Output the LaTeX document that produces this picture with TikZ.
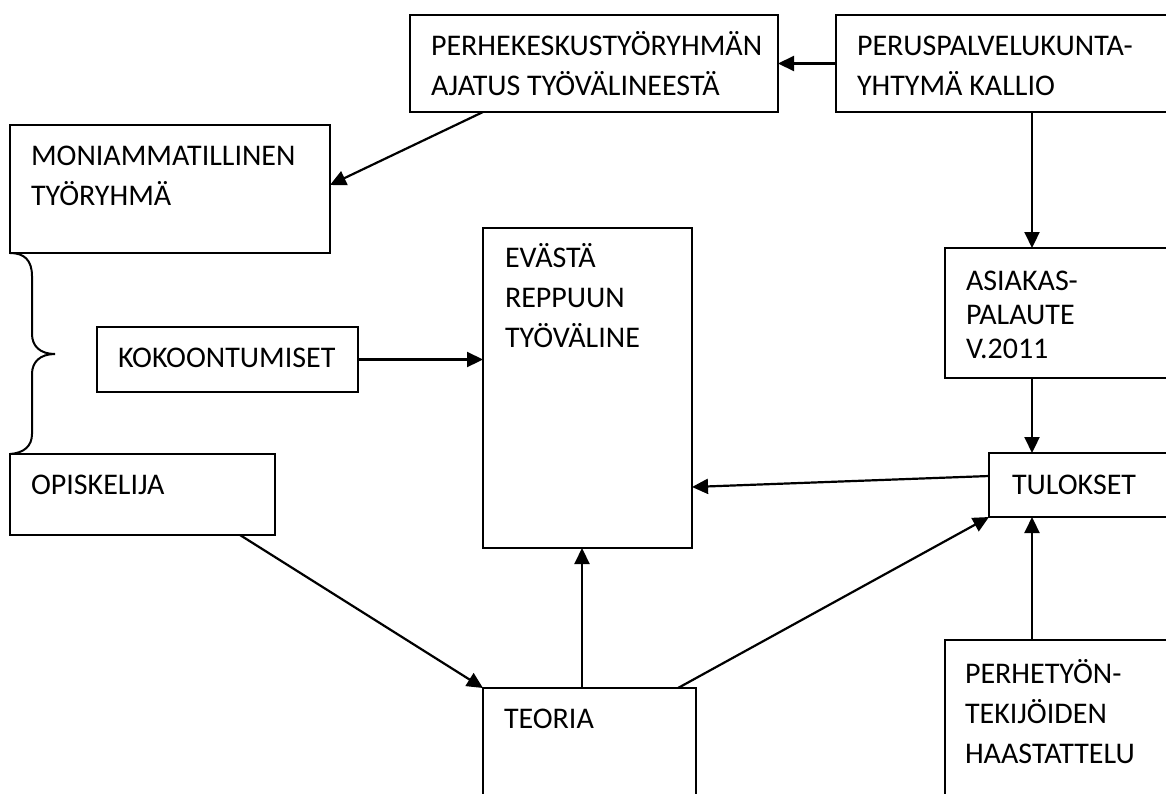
\documentclass[tikz,border=0pt]{standalone}
\usepackage{fontspec}
\setmainfont{Carlito}
\usetikzlibrary{arrows.meta}
\begin{document}
\begin{tikzpicture}[x=1pt,y=-1pt,
  box/.style={draw, line width=2pt, anchor=north west, inner sep=0pt, outer sep=0pt},
  lbl/.style={anchor=north west, inner sep=0pt, outer sep=0pt, align=left, font=\fontsize{30}{40}\selectfont},
  arr/.style={-{Triangle[length=16pt,width=15pt]}, line width=2.2pt}]
\useasboundingbox (0,0) rectangle (1166,793);
\clip (0,0) rectangle (1166,793);
\fill[white] (0,0) rectangle (1166,793);
% boxes
\node[box, minimum width=368pt, minimum height=97pt] (A) at (410,15) {};
\node[box, minimum width=350pt, minimum height=97pt] (B) at (836,15) {};
\node[box, minimum width=320pt, minimum height=128pt] (C) at (10,125) {};
\node[box, minimum width=261pt, minimum height=65pt] (E) at (97,327) {};
\node[box, minimum width=265pt, minimum height=81pt] (D) at (10,454) {};
\node[box, minimum width=209pt, minimum height=320pt] (F) at (483,228) {};
\node[box, minimum width=240pt, minimum height=130pt] (G) at (945,248) {};
\node[box, minimum width=200pt, minimum height=64pt] (H) at (989,453) {};
\node[box, minimum width=240pt, minimum height=200pt] (I) at (945,640) {};
\node[box, minimum width=213pt, minimum height=150pt] (J) at (483,688) {};
% texts (first baseline = node top + 28)
\node[lbl] (tA) at (431,27) {\strut PERHEKESKUSTYÖRYHMÄN\\AJATUS TYÖVÄLINEESTÄ};
\node[lbl] (tB) at (857,27) {\strut PERUSPALVELUKUNTA-\\YHTYMÄ KALLIO};
\node[lbl] (tC) at (31,137) {\strut MONIAMMATILLINEN\\TYÖRYHMÄ};
\node[lbl] (tE) at (118,339) {\strut KOKOONTUMISET};
\node[lbl] (tD) at (31,466) {\strut OPISKELIJA};
\node[lbl] (tF) at (505,239) {\strut EVÄSTÄ\\REPPUUN\\TYÖVÄLINE};
\node[lbl, font=\fontsize{30}{34}\selectfont] (tG) at (966,266.2) {\strut ASIAKAS-\\PALAUTE\\V.2011};
\node[lbl] (tH) at (1012,466) {\strut TULOKSET};
\node[lbl] (tI) at (965,655) {\strut PERHETYÖN-\\TEKIJÖIDEN\\HAASTATTELU};
\node[lbl] (tJ) at (504,700) {\strut TEORIA};
% columns
\coordinate (col) at (1032,0);
\coordinate (col2) at (582,0);
% connectors
\draw[arr] (B.west) -- (A.east);
\draw[arr] ([xshift=73pt]A.south west) -- ([yshift=4pt]C.east);
\draw[arr] (E.east) -- (F.west |- E.east);
\draw[arr] (B.south -| col) -- (G.north -| col);
\draw[arr] (G.south -| col) -- (H.north -| col);
\draw[arr] (I.north -| col) -- (H.south -| col);
\draw[arr] ([yshift=9pt]H.west) -- ([yshift=-99pt]F.east);
\draw[arr] ([xshift=-35pt]D.south east) -- (J.north west);
\draw[arr] (J.north -| col2) -- (F.south -| col2);
\draw[arr] ([xshift=-18pt]J.north east) -- (H.south west);
% brace
\draw[line width=2pt] (C.south west) .. controls (24,253) and (32,260) .. (32,276) -- (32,334)
  .. controls (32,346) and (40,354) .. (55,354)
  .. controls (40,354) and (32,362) .. (32,374) -- (32,434)
  .. controls (32,446) and (24,453) .. (D.north west);
\end{tikzpicture}
\end{document}
